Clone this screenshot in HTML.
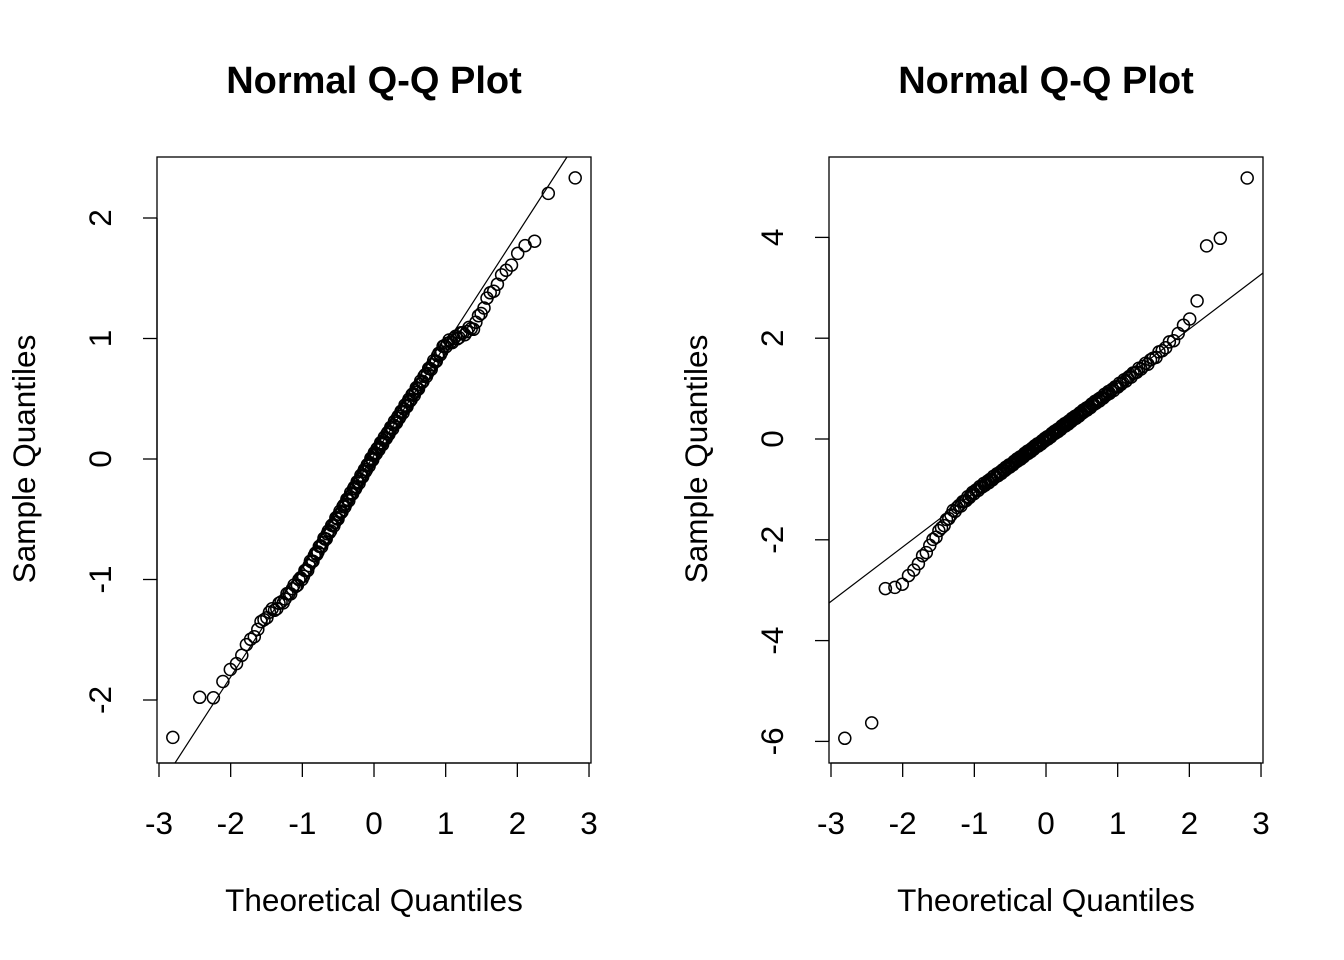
<!DOCTYPE html>
<html><head><meta charset="utf-8"><style>
html,body{margin:0;padding:0;background:#fff}
svg{display:block}
text{font-family:"Liberation Sans",Arial,sans-serif;fill:#000}
</style></head><body>
<svg id="s" width="1344" height="960" xmlns="http://www.w3.org/2000/svg">
<rect width="1344" height="960" fill="#fff"/>
<text x="374" y="93" font-size="38" font-weight="bold" text-anchor="middle">Normal Q-Q Plot</text>
<text x="1046" y="93" font-size="38" font-weight="bold" text-anchor="middle">Normal Q-Q Plot</text>
<text x="374" y="911" font-size="31.5" text-anchor="middle">Theoretical Quantiles</text>
<text x="1046" y="911" font-size="31.5" text-anchor="middle">Theoretical Quantiles</text>
<text transform="translate(35,459) rotate(-90)" font-size="31.5" text-anchor="middle">Sample Quantiles</text>
<text transform="translate(707,459) rotate(-90)" font-size="31.5" text-anchor="middle">Sample Quantiles</text>
<rect x="157" y="157" width="434" height="606" fill="none" stroke="#000" stroke-width="1.3"/>
<rect x="829" y="157" width="434" height="606" fill="none" stroke="#000" stroke-width="1.3"/>
<g id="g"></g>
</svg>
<script>
function qnorm(p){var a=[-39.6968302866538,220.946098424521,-275.928510446969,138.357751867269,-30.6647980661472,2.50662827745924],b=[-54.4760987982241,161.585836858041,-155.698979859887,66.8013118877197,-13.2806815528857],c=[-0.00778489400243029,-0.322396458041136,-2.40075827716184,-2.54973253934373,4.37466414146497,2.93816398269878],d=[0.00778469570904146,0.32246712907004,2.445134137143,3.75440866190742];var q,r;
if(p<0.02425){q=Math.sqrt(-2*Math.log(p));return(((((c[0]*q+c[1])*q+c[2])*q+c[3])*q+c[4])*q+c[5])/((((d[0]*q+d[1])*q+d[2])*q+d[3])*q+1);}
if(p>1-0.02425){q=Math.sqrt(-2*Math.log(1-p));return-(((((c[0]*q+c[1])*q+c[2])*q+c[3])*q+c[4])*q+c[5])/((((d[0]*q+d[1])*q+d[2])*q+d[3])*q+1);}
q=p-0.5;r=q*q;return(((((a[0]*r+a[1])*r+a[2])*r+a[3])*r+a[4])*r+a[5])*q/(((((b[0]*r+b[1])*r+b[2])*r+b[3])*r+b[4])*r+1);}
function interp(t,z){if(z<=t[0][0])return t[0][1];for(var i=1;i<t.length;i++){if(z<=t[i][0]){var f=(z-t[i-1][0])/(t[i][0]-t[i-1][0]);return t[i-1][1]+f*(t[i][1]-t[i-1][1]);}}return t[t.length-1][1];}
var L=[[-2.8,-2.33],[-2.43,-1.97],[-2.25,-1.97],[-2.1,-1.85],[-1.5,-1.3],[-1.3,-1.2],[-1.0,-0.98],[-0.8,-0.78],[0,0.03],[1,0.95],[1.4,1.1],[1.6,1.35],[2.0,1.7],[2.25,1.82],[2.43,2.22],[2.8,2.32]];
var R=[[-2.8,-5.96],[-2.43,-5.6],[-2.3,-3.0],[-2.1,-2.95],[-1.95,-2.8],[-1.7,-2.3],[-1.55,-1.95],[-1.3,-1.45],[-1,-1.05],[0,0.0],[1,1.05],[1.5,1.6],[1.8,2.0],[2.0,2.4],[2.1,2.65],[2.25,3.9],[2.43,4.0],[2.8,5.15]];
var h='';var n=200;
for(var i=1;i<=n;i++){var z=qnorm((i-0.5)/n);
var v=interp(L,z)+0.02*Math.sin(i*1.7);h+='<circle cx="'+(374+z*71.67).toFixed(1)+'" cy="'+(459-v*120.5).toFixed(1)+'" r="6" fill="none" stroke="#000" stroke-width="1.5"/>';
var w=interp(R,z)+0.03*Math.sin(i*2.3);h+='<circle cx="'+(1046+z*71.67).toFixed(1)+'" cy="'+(439-w*50.4).toFixed(1)+'" r="6" fill="none" stroke="#000" stroke-width="1.5"/>';}
h+='<line x1="175" y1="763" x2="567" y2="157" stroke="#000" stroke-width="1.2"/>';
h+='<line x1="829" y1="603" x2="1263" y2="273" stroke="#000" stroke-width="1.2"/>';
[159,831].forEach(function(x0){h+='<line x1="'+x0+'" y1="763" x2="'+(x0+430)+'" y2="763" stroke="#000" stroke-width="1.3"/>';
for(var k=-3;k<=3;k++){var x=x0+(k+3)*71.67;h+='<line x1="'+x+'" y1="763" x2="'+x+'" y2="777" stroke="#000" stroke-width="1.3"/><text x="'+x+'" y="834" font-size="31.5" text-anchor="middle">'+(k<0?'-'+(-k):k)+'</text>';}});
h+='<line x1="157" y1="218" x2="157" y2="700" stroke="#000" stroke-width="1.3"/>';
for(var k=-2;k<=2;k++){var y=459-k*120.5;h+='<line x1="143" y1="'+y+'" x2="157" y2="'+y+'" stroke="#000" stroke-width="1.3"/><text transform="translate(111,'+y+') rotate(-90)" font-size="31.5" text-anchor="middle">'+(k<0?'-'+(-k):k)+'</text>';}
h+='<line x1="829" y1="237" x2="829" y2="741" stroke="#000" stroke-width="1.3"/>';
for(var k=-6;k<=4;k+=2){var y=439-k*50.4;h+='<line x1="815" y1="'+y+'" x2="829" y2="'+y+'" stroke="#000" stroke-width="1.3"/><text transform="translate(783,'+y+') rotate(-90)" font-size="31.5" text-anchor="middle">'+(k<0?'-'+(-k):k)+'</text>';}
document.getElementById('g').innerHTML=h;
</script>
</body></html>
